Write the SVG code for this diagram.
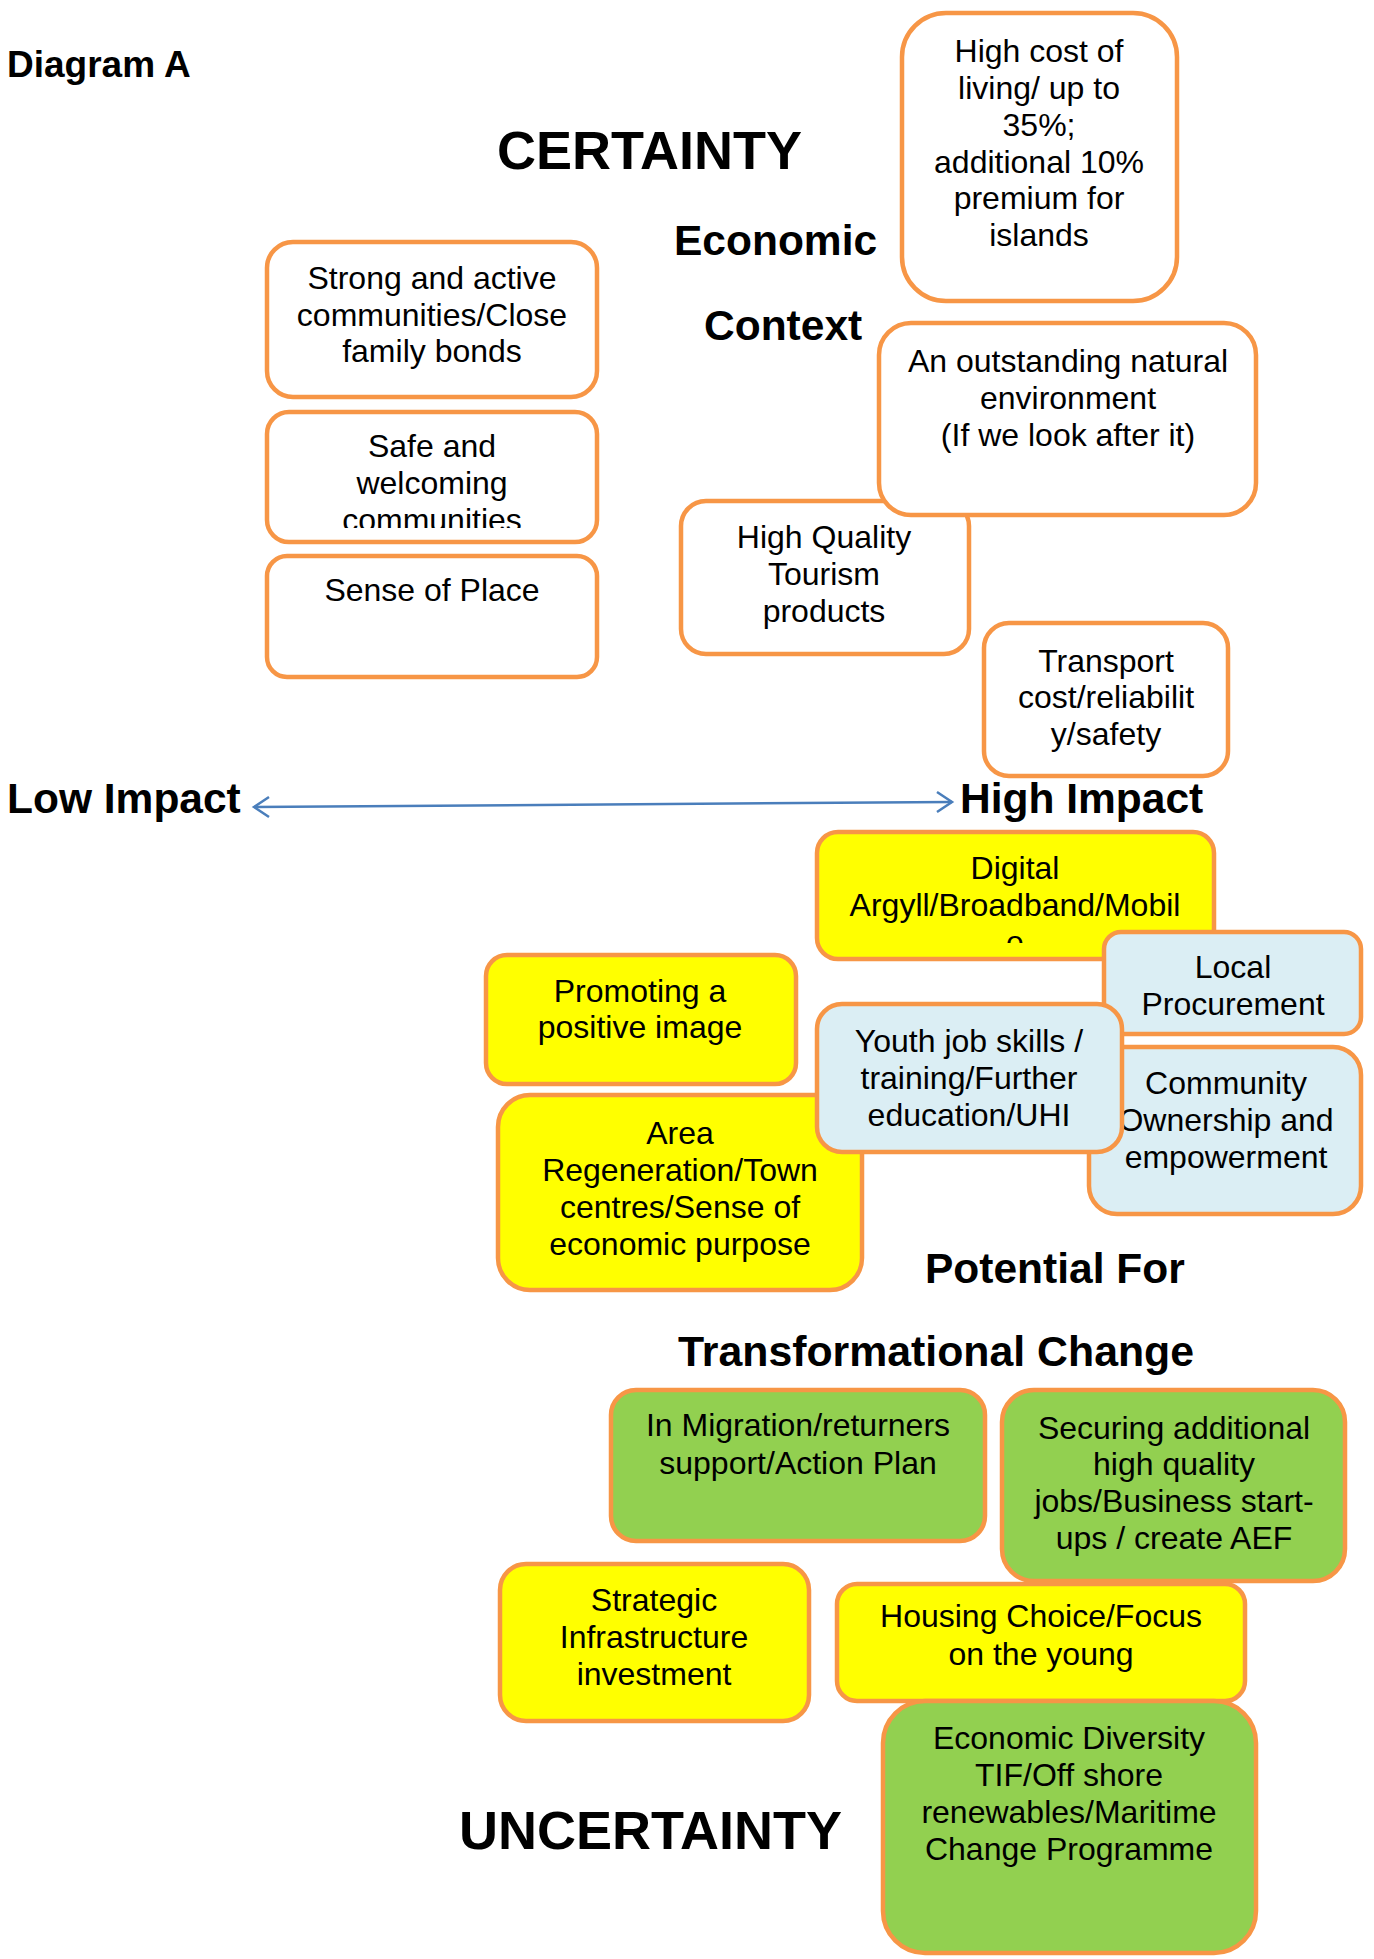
<svg xmlns="http://www.w3.org/2000/svg" width="1374" height="1959" viewBox="0 0 1374 1959">
  <style>
    .box { stroke: #f79646; stroke-width: 4.5; }
    .white { fill: #ffffff; }
    .yellow { fill: #ffff00; }
    .blue { fill: #dbeef4; }
    .green { fill: #92d050; }
    .t { font-family: "Liberation Sans", Arial, sans-serif; font-size: 32px; fill: #000; text-anchor: middle; }
    .h { font-family: "Liberation Sans", Arial, sans-serif; font-weight: bold; fill: #000; }
    .axis { stroke: #4a7ebb; stroke-width: 2.5; fill: none; }
  </style>
  <defs>
    <clipPath id="clip-safe"><rect x="262" y="410" width="340" height="118"/></clipPath>
    <clipPath id="clip-digital"><rect x="812" y="828" width="410" height="115"/></clipPath>
  </defs>

  <rect width="1374" height="1959" fill="#ffffff"/>

  <!-- headings -->
  <g id="headings">
    <text class="h" x="7" y="77" font-size="37">Diagram A</text>
    <text class="h" x="497" y="169" font-size="54">CERTAINTY</text>
    <text class="h" x="674" y="255" font-size="42.5">Economic</text>
    <text class="h" x="704" y="340" font-size="42.5">Context</text>
    <text class="h" x="7" y="813" font-size="42.5">Low Impact</text>
    <text class="h" x="960" y="813" font-size="42.5">High Impact</text>
    <text class="h" x="925" y="1283" font-size="42.5">Potential For</text>
    <text class="h" x="678" y="1366" font-size="42.8">Transformational Change</text>
    <text class="h" x="459" y="1849" font-size="54">UNCERTAINTY</text>
  </g>

  <!-- impact axis -->
  <g id="connectors">
    <path class="axis" d="M254,807 L952,802"/>
    <path class="axis" d="M269,797 L254,807 L269,817"/>
    <path class="axis" d="M937,792 L952,802 L937,812"/>
  </g>

  <g id="cost-of-living">
    <rect class="box white" x="902" y="13" width="275" height="288" rx="44"/>
    <text class="t" x="1039" y="62">High cost of</text>
    <text class="t" x="1039" y="99">living/ up to</text>
    <text class="t" x="1039" y="136">35%;</text>
    <text class="t" x="1039" y="173">additional 10%</text>
    <text class="t" x="1039" y="209">premium for</text>
    <text class="t" x="1039" y="246">islands</text>
  </g>

  <g id="strong-communities">
    <rect class="box white" x="267" y="242" width="330" height="155" rx="26"/>
    <text class="t" x="432" y="289">Strong and active</text>
    <text class="t" x="432" y="326">communities/Close</text>
    <text class="t" x="432" y="362">family bonds</text>
  </g>

  <g id="safe-communities">
    <rect class="box white" x="267" y="412" width="330" height="130" rx="22"/>
    <g clip-path="url(#clip-safe)">
      <text class="t" x="432" y="457">Safe and</text>
      <text class="t" x="432" y="494">welcoming</text>
      <text class="t" x="432" y="531">communities</text>
    </g>
  </g>

  <g id="sense-of-place">
    <rect class="box white" x="267" y="556" width="330" height="121" rx="20"/>
    <text class="t" x="432" y="601">Sense of Place</text>
  </g>

  <g id="tourism">
    <rect class="box white" x="681" y="501" width="288" height="153" rx="25"/>
    <text class="t" x="824" y="548">High Quality</text>
    <text class="t" x="824" y="585">Tourism</text>
    <text class="t" x="824" y="622">products</text>
  </g>

  <g id="natural-environment">
    <rect class="box white" x="879" y="323" width="377" height="192" rx="32"/>
    <text class="t" x="1068" y="372">An outstanding natural</text>
    <text class="t" x="1068" y="409">environment</text>
    <text class="t" x="1068" y="446">(If we look after it)</text>
  </g>

  <g id="transport">
    <rect class="box white" x="984" y="623" width="244" height="153" rx="25"/>
    <text class="t" x="1106" y="672">Transport</text>
    <text class="t" x="1106" y="708">cost/reliabilit</text>
    <text class="t" x="1106" y="745">y/safety</text>
  </g>

  <g id="digital">
    <rect class="box yellow" x="817" y="832" width="397" height="127" rx="21"/>
    <g clip-path="url(#clip-digital)">
      <text class="t" x="1015" y="879">Digital</text>
      <text class="t" x="1015" y="916">Argyll/Broadband/Mobil</text>
      <text class="t" x="1015" y="953">e</text>
    </g>
  </g>

  <g id="local-procurement">
    <rect class="box blue" x="1104" y="932" width="257" height="102" rx="17"/>
    <text class="t" x="1233" y="978">Local</text>
    <text class="t" x="1233" y="1015">Procurement</text>
  </g>

  <g id="positive-image">
    <rect class="box yellow" x="486" y="955" width="310" height="129" rx="21"/>
    <text class="t" x="640" y="1002">Promoting a</text>
    <text class="t" x="640" y="1038">positive image</text>
  </g>

  <g id="community-ownership">
    <rect class="box blue" x="1089" y="1047" width="272" height="167" rx="28"/>
    <text class="t" x="1226" y="1094">Community</text>
    <text class="t" x="1226" y="1131">Ownership and</text>
    <text class="t" x="1226" y="1168">empowerment</text>
  </g>

  <g id="area-regeneration">
    <rect class="box yellow" x="498" y="1095" width="364" height="195" rx="32"/>
    <text class="t" x="680" y="1144">Area</text>
    <text class="t" x="680" y="1181">Regeneration/Town</text>
    <text class="t" x="680" y="1218">centres/Sense of</text>
    <text class="t" x="680" y="1255">economic purpose</text>
  </g>

  <g id="youth-skills">
    <rect class="box blue" x="817" y="1004" width="305" height="148" rx="25"/>
    <text class="t" x="969" y="1052">Youth job skills /</text>
    <text class="t" x="969" y="1089">training/Further</text>
    <text class="t" x="969" y="1126">education/UHI</text>
  </g>

  <g id="in-migration">
    <rect class="box green" x="611" y="1390" width="374" height="151" rx="25"/>
    <text class="t" x="798" y="1436">In Migration/returners</text>
    <text class="t" x="798" y="1474">support/Action Plan</text>
  </g>

  <g id="quality-jobs">
    <rect class="box green" x="1002" y="1390" width="343" height="191" rx="32"/>
    <text class="t" x="1174" y="1439">Securing additional</text>
    <text class="t" x="1174" y="1475">high quality</text>
    <text class="t" x="1174" y="1512">jobs/Business start-</text>
    <text class="t" x="1174" y="1549">ups / create AEF</text>
  </g>

  <g id="strategic-infrastructure">
    <rect class="box yellow" x="500" y="1564" width="309" height="157" rx="26"/>
    <text class="t" x="654" y="1611">Strategic</text>
    <text class="t" x="654" y="1648">Infrastructure</text>
    <text class="t" x="654" y="1685">investment</text>
  </g>

  <g id="housing">
    <rect class="box yellow" x="837" y="1584" width="408" height="117" rx="20"/>
    <text class="t" x="1041" y="1627">Housing Choice/Focus</text>
    <text class="t" x="1041" y="1665">on the young</text>
  </g>

  <g id="economic-diversity">
    <rect class="box green" x="883" y="1701" width="373" height="252" rx="42"/>
    <text class="t" x="1069" y="1749">Economic Diversity</text>
    <text class="t" x="1069" y="1786">TIF/Off shore</text>
    <text class="t" x="1069" y="1823">renewables/Maritime</text>
    <text class="t" x="1069" y="1860">Change Programme</text>
  </g>
</svg>
